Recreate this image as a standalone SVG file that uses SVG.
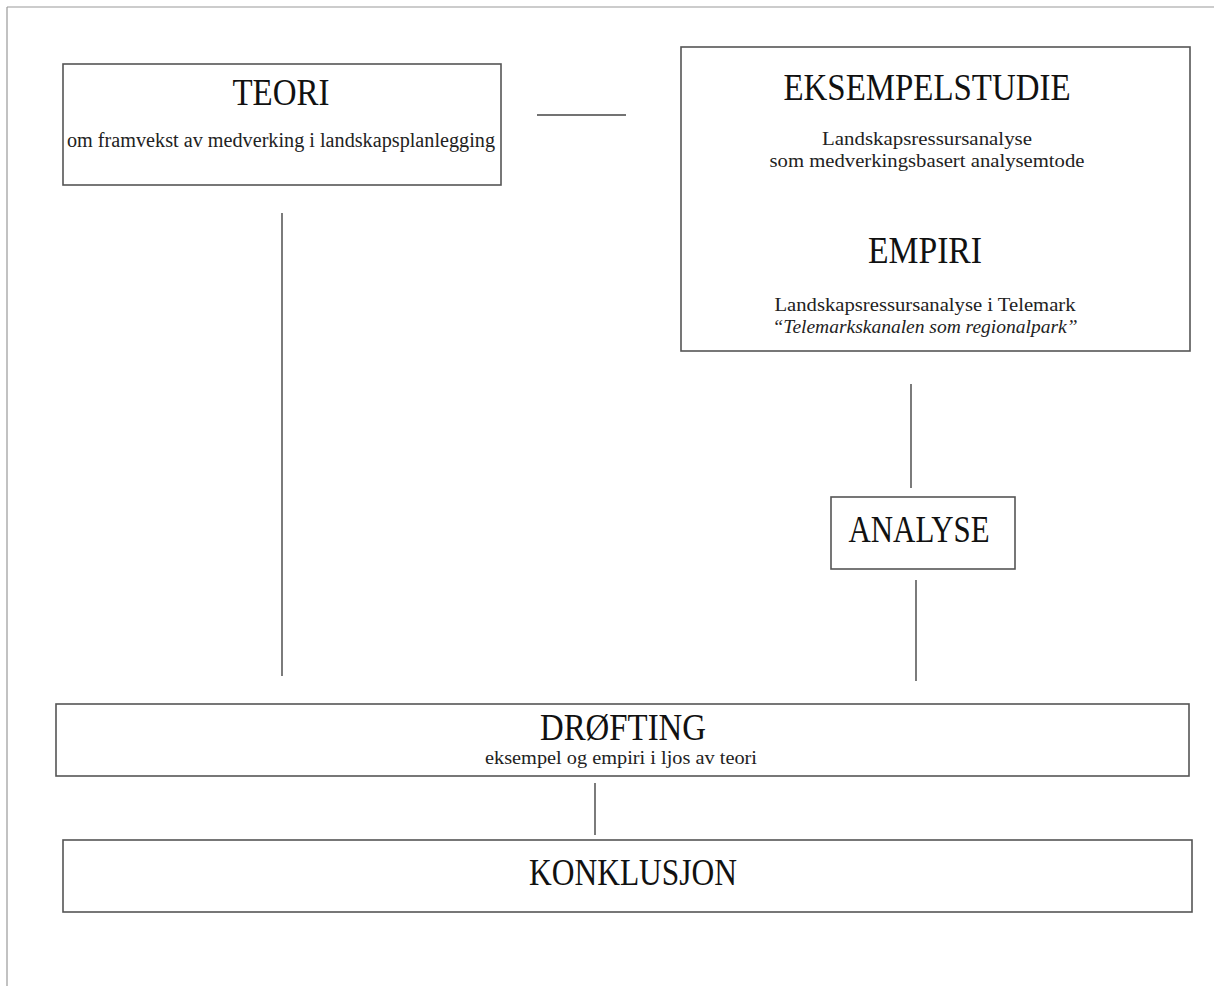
<svg xmlns="http://www.w3.org/2000/svg" width="1214" height="986" viewBox="0 0 1214 986">
  <style>
    .box { fill: #ffffff; stroke: #555555; stroke-width: 1.6; }
    .conn { stroke: #444444; stroke-width: 1.4; fill: none; }
    .frame { stroke: #999999; stroke-width: 1.2; fill: none; }
    .title { font-family: "Liberation Serif", "DejaVu Serif", serif; font-size: 37px; fill: #111111; text-anchor: middle; }
    .sub { font-family: "Liberation Serif", "DejaVu Serif", serif; font-size: 20px; fill: #222222; text-anchor: middle; }
    .small { font-family: "Liberation Serif", "DejaVu Serif", serif; font-size: 18px; fill: #222222; text-anchor: middle; }
  </style>
  <rect x="0" y="0" width="1214" height="986" fill="#ffffff"/>
  <g id="frame">
    <line class="frame" x1="7" y1="7" x2="1214" y2="7"/>
    <line class="frame" x1="7" y1="7" x2="7" y2="986"/>
  </g>
  <g id="connectors">
    <line class="conn" x1="537" y1="115" x2="626" y2="115"/>
    <line class="conn" x1="282" y1="213" x2="282" y2="676"/>
    <line class="conn" x1="911" y1="384" x2="911" y2="488"/>
    <line class="conn" x1="916" y1="580" x2="916" y2="681"/>
    <line class="conn" x1="595" y1="783" x2="595" y2="835"/>
  </g>
  <g id="teori">
    <rect class="box" x="63" y="64" width="438" height="121"/>
    <text class="title" x="281" y="105" textLength="97" lengthAdjust="spacingAndGlyphs">TEORI</text>
    <text class="sub" x="281" y="147" textLength="428" lengthAdjust="spacingAndGlyphs">om framvekst av medverking i landskapsplanlegging</text>
  </g>
  <g id="eksempelstudie">
    <rect class="box" x="681" y="47" width="509" height="304"/>
    <text class="title" x="927" y="100" textLength="287" lengthAdjust="spacingAndGlyphs">EKSEMPELSTUDIE</text>
    <text class="small" x="927" y="145" textLength="210" lengthAdjust="spacingAndGlyphs">Landskapsressursanalyse</text>
    <text class="small" x="927" y="167" textLength="315" lengthAdjust="spacingAndGlyphs">som medverkingsbasert analysemtode</text>
    <text class="title" x="925" y="263" textLength="114" lengthAdjust="spacingAndGlyphs">EMPIRI</text>
    <text class="small" x="925" y="311" textLength="301" lengthAdjust="spacingAndGlyphs">Landskapsressursanalyse i Telemark</text>
    <text class="small" x="925" y="333" font-style="italic" textLength="305" lengthAdjust="spacingAndGlyphs">“Telemarkskanalen som regionalpark”</text>
  </g>
  <g id="analyse">
    <rect class="box" x="831" y="497" width="184" height="72"/>
    <text class="title" x="919" y="542" textLength="141" lengthAdjust="spacingAndGlyphs">ANALYSE</text>
  </g>
  <g id="drofting">
    <rect class="box" x="56" y="704" width="1133" height="72"/>
    <text class="title" x="623" y="740" font-size="34" textLength="166" lengthAdjust="spacingAndGlyphs">DRØFTING</text>
    <text class="small" x="621" y="764" font-size="17" textLength="272" lengthAdjust="spacingAndGlyphs">eksempel og empiri i ljos av teori</text>
  </g>
  <g id="konklusjon">
    <rect class="box" x="63" y="840" width="1129" height="72"/>
    <text class="title" x="633" y="885" textLength="208" lengthAdjust="spacingAndGlyphs">KONKLUSJON</text>
  </g>
</svg>
